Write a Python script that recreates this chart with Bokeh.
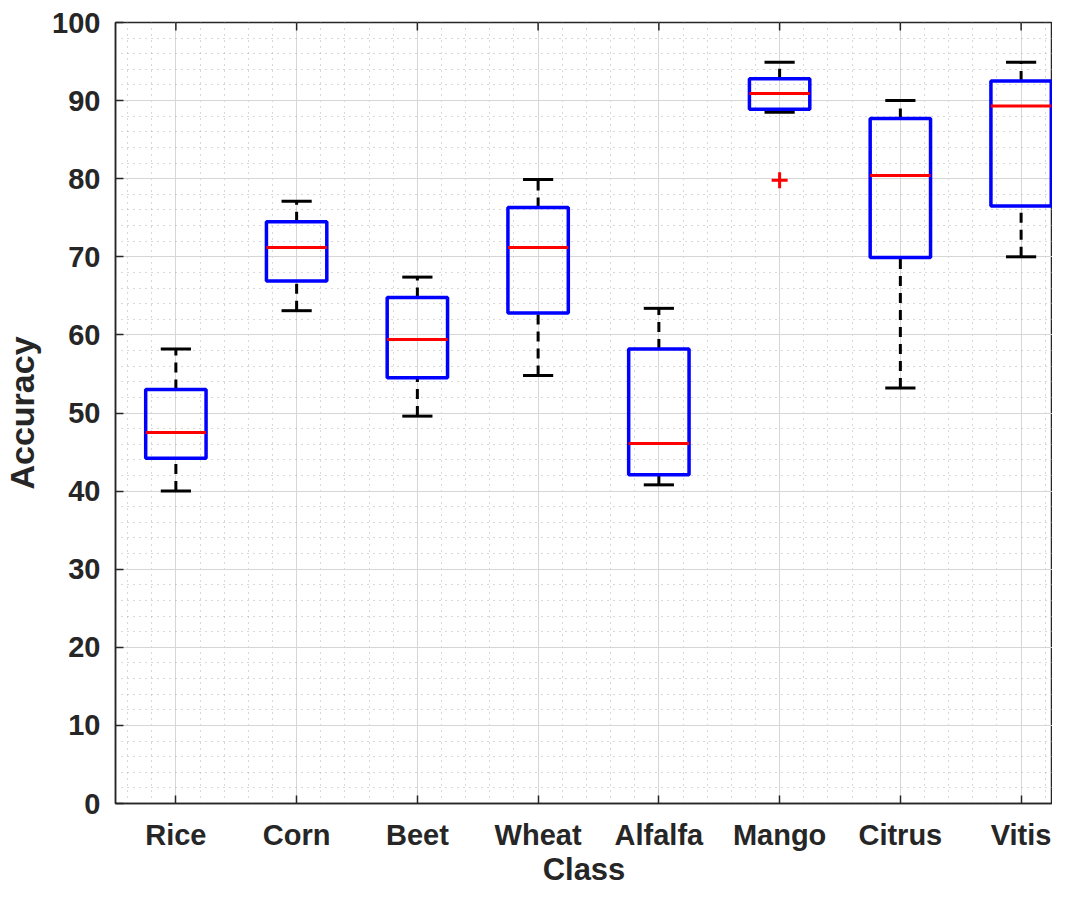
import math
from bokeh.plotting import figure
from bokeh.models import FixedTicker, ColumnDataSource, Range1d
from bokeh.embed import file_html
from bokeh.resources import INLINE

# ---- data ----
classes = ["Rice", "Corn", "Beet", "Wheat", "Alfalfa", "Mango", "Citrus", "Vitis"]
lower_whisker = [40.0, 63.1, 49.6, 54.8, 40.8, 88.5, 53.2, 70.0]
q1 = [44.2, 66.9, 54.5, 62.8, 42.1, 88.9, 69.9, 76.5]
median = [47.5, 71.2, 59.4, 71.2, 46.1, 90.9, 80.4, 89.3]
q3 = [53.0, 74.5, 64.8, 76.3, 58.2, 92.8, 87.7, 92.5]
upper_whisker = [58.2, 77.1, 67.4, 79.9, 63.4, 94.9, 90.0, 94.9]
outlier_class = ["Mango"]
outlier_value = [79.8]

y_ticks = [0, 10, 20, 30, 40, 50, 60, 70, 80, 90, 100]

pos = [i + 1 for i in range(len(classes))]
box_half = 0.25
cap_half = 0.125
y_lo, y_hi = y_ticks[0], y_ticks[-1]

src = ColumnDataSource(dict(
    x=pos,
    left=[p - box_half for p in pos],
    right=[p + box_half for p in pos],
    cl=[p - cap_half for p in pos],
    cr=[p + cap_half for p in pos],
    lw=lower_whisker, q1=q1, med=median, q3=q3, uw=upper_whisker,
))
out_src = ColumnDataSource(dict(
    x=[classes.index(c) + 1 for c in outlier_class],
    y=outlier_value,
))

TEXT = "#262626"
FONT = "Liberation Sans"

p = figure(width=1052, height=889, output_backend="svg", toolbar_location=None,
           x_range=Range1d(0.5, 8.26), y_range=Range1d(y_lo, y_hi),
           min_border_left=115, min_border_right=0, min_border_top=22,
           min_border_bottom=76)
p.background_fill_color = "white"
p.border_fill_color = "white"
p.outline_line_color = TEXT
p.outline_line_width = 1.5

# axes
xa = p.xaxis[0]
xa.ticker = FixedTicker(ticks=pos, minor_ticks=[round(0.2 * k, 1) for k in range(2, 42)])
xa.major_label_overrides = {i + 1: c for i, c in enumerate(classes)}
ya = p.yaxis[0]
ya.ticker = FixedTicker(ticks=y_ticks, minor_ticks=list(range(0, 101, 2)))

for ax in (xa, ya):
    ax.major_tick_in = 8
    ax.major_tick_out = 0
    ax.minor_tick_in = 0
    ax.minor_tick_out = 0
    ax.axis_line_color = TEXT
    ax.axis_line_width = 1.5
    ax.major_tick_line_color = TEXT
    ax.major_tick_line_width = 1.5
    ax.major_label_text_font = FONT
    ax.major_label_text_font_style = "bold"
    ax.major_label_text_font_size = "29px"
    ax.major_label_text_color = TEXT
    ax.axis_label_text_font = FONT
    ax.axis_label_text_font_style = "bold"
    ax.axis_label_text_color = TEXT
    ax.axis_label_text_line_height = 1.0
    ax.major_label_standoff = 15

xa.major_label_standoff = 15
xa.major_label_text_line_height = 1.0
xa.axis_label = "Class"
xa.axis_label_text_font_size = "31px"
xa.axis_label_standoff = -2
ya.axis_label = "Accuracy"
ya.axis_label_text_font_size = "34px"
ya.axis_label_standoff = 8

# grids
for g in (p.xgrid[0], p.ygrid[0]):
    g.grid_line_color = "#d6d6d6"
    g.grid_line_width = 1
    g.minor_grid_line_color = "#b0b0b0"
    g.minor_grid_line_dash = "1 5"
    g.minor_grid_line_width = 1

# top-edge inward ticks (marker centred on the frame edge, clipped to the frame)
p.scatter(x=pos, y=[y_hi] * len(pos), marker="dash", angle=math.pi / 2, size=16,
          line_color=TEXT, line_width=1.5)

# whiskers (dashed)
p.segment(x0="x", y0="q3", x1="x", y1="uw", source=src, line_color="black",
          line_width=3, line_dash="10 7")
p.segment(x0="x", y0="lw", x1="x", y1="q1", source=src, line_color="black",
          line_width=3, line_dash="10 7")
# caps
p.segment(x0="cl", y0="uw", x1="cr", y1="uw", source=src, line_color="black", line_width=3)
p.segment(x0="cl", y0="lw", x1="cr", y1="lw", source=src, line_color="black", line_width=3)
# boxes
p.quad(left="left", right="right", bottom="q1", top="q3", source=src,
       fill_color=None, line_color="#0000ff", line_width=3.5)
# medians
p.segment(x0="left", y0="med", x1="right", y1="med", source=src,
          line_color="#ff0000", line_width=3)
# outliers
p.scatter(x="x", y="y", source=out_src, marker="cross", size=16,
          line_color="#ff0000", line_width=3)

open("out.html", "w").write(file_html(p, INLINE))
